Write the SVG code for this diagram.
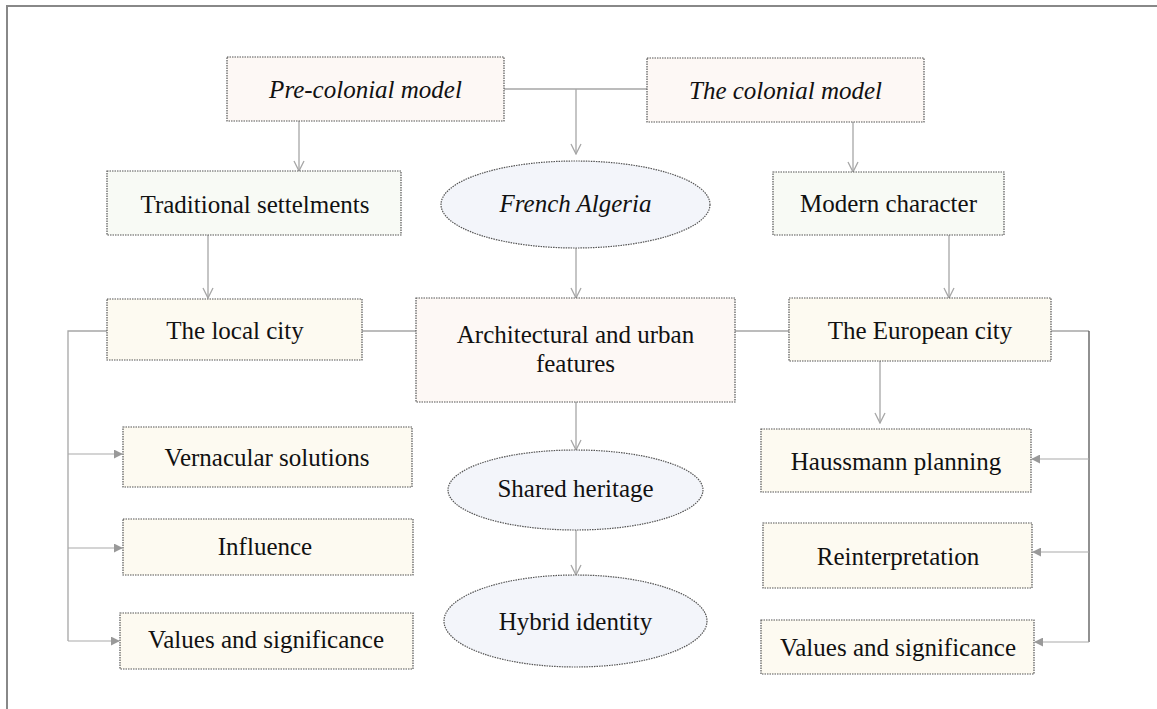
<svg xmlns="http://www.w3.org/2000/svg" width="1157" height="709" viewBox="0 0 1157 709">
  <defs>
    <style>
      .box { stroke: #555; stroke-width: 1.2; stroke-dasharray: 1.5 1; }
      .model { fill: #fdf8f5; }
      .trait { fill: #f8faf5; }
      .city { fill: #fdfaf1; }
      .oval { fill: #f3f5fa; }
      .lbl { font-family: "Liberation Serif", "Times New Roman", serif; font-size: 25px; fill: #111; text-anchor: middle; }
      .it { font-style: italic; }
      .link { fill: none; stroke: #a6a6a6; stroke-width: 1.3; }
      .feed { fill: none; stroke: #aaa; stroke-width: 1.2; }
      .spine { fill: none; stroke: #555; stroke-width: 1.3; }
      .frame { fill: none; stroke: #888; stroke-width: 2; }
    </style>
    <marker id="vee" viewBox="0 0 12 12" refX="11" refY="6" markerWidth="12" markerHeight="12" markerUnits="userSpaceOnUse" orient="auto">
      <path d="M1,1 L11,6 L1,11" fill="none" stroke="#a6a6a6" stroke-width="1.3"/>
    </marker>
    <marker id="tri" viewBox="0 0 10 10" refX="9" refY="5" markerWidth="9" markerHeight="9" markerUnits="userSpaceOnUse" orient="auto">
      <path d="M0,0 L10,5 L0,10 Z" fill="#999"/>
    </marker>
  </defs>

  <!-- page frame -->
  <path class="frame" d="M7,709 L7,6 L1157,6"/>

  <!-- connectors -->
  <g id="connectors">
    <path class="link" d="M504,89 L647,89"/>
    <path class="link" d="M576,89 L576,154" marker-end="url(#vee)"/>
    <path class="link" d="M299,121 L299,171" marker-end="url(#vee)"/>
    <path class="link" d="M853,122 L853,172" marker-end="url(#vee)"/>
    <path class="link" d="M208,235 L208,298" marker-end="url(#vee)"/>
    <path class="link" d="M949,235 L949,298" marker-end="url(#vee)"/>
    <path class="link" d="M576,248 L576,298" marker-end="url(#vee)"/>
    <path class="link" d="M362,331 L416,331"/>
    <path class="link" d="M735,331 L789,331"/>
    <path class="link" d="M880,361 L880,423" marker-end="url(#vee)"/>
    <path class="link" d="M576,402 L576,450" marker-end="url(#vee)"/>
    <path class="link" d="M576,530 L576,575" marker-end="url(#vee)"/>
    <!-- left bracket -->
    <path class="link" d="M107,331 L68,331 L68,641"/>
    <path class="feed" d="M68,454 L122,454" marker-end="url(#tri)"/>
    <path class="feed" d="M68,548 L122,548" marker-end="url(#tri)"/>
    <path class="feed" d="M68,641 L119,641" marker-end="url(#tri)"/>
    <!-- right bracket -->
    <path class="link" d="M1051,331 L1089,331"/>
    <path class="spine" d="M1089,331 L1089,642"/>
    <path class="feed" d="M1089,459 L1032,459" marker-end="url(#tri)"/>
    <path class="feed" d="M1089,552 L1033,552" marker-end="url(#tri)"/>
    <path class="feed" d="M1089,642 L1035,642" marker-end="url(#tri)"/>
  </g>

  <g id="pre-colonial">
    <rect class="box model" x="227" y="57" width="277" height="64"/>
    <text class="lbl it" x="365.5" y="98">Pre-colonial model</text>
  </g>
  <g id="colonial">
    <rect class="box model" x="647" y="58" width="277" height="64"/>
    <text class="lbl it" x="785.5" y="99">The colonial model</text>
  </g>
  <g id="traditional">
    <rect class="box trait" x="107" y="171" width="294" height="64"/>
    <text class="lbl" x="255" y="213">Traditional settelments</text>
  </g>
  <g id="french-algeria">
    <ellipse class="box oval" cx="575.5" cy="204.5" rx="134.5" ry="43.5"/>
    <text class="lbl it" x="575.5" y="212">French Algeria</text>
  </g>
  <g id="modern">
    <rect class="box trait" x="773" y="172" width="231" height="63"/>
    <text class="lbl" x="888.5" y="212">Modern character</text>
  </g>
  <g id="local-city">
    <rect class="box city" x="107" y="299" width="255" height="61"/>
    <text class="lbl" x="235" y="339">The local city</text>
  </g>
  <g id="features">
    <rect class="box model" x="416" y="298" width="319" height="104"/>
    <text class="lbl" x="575.5" y="343">Architectural and urban</text>
    <text class="lbl" x="575.5" y="372">features</text>
  </g>
  <g id="european-city">
    <rect class="box city" x="789" y="298" width="262" height="63"/>
    <text class="lbl" x="920" y="339">The European city</text>
  </g>
  <g id="vernacular">
    <rect class="box city" x="123" y="427" width="289" height="60"/>
    <text class="lbl" x="267" y="466">Vernacular solutions</text>
  </g>
  <g id="influence">
    <rect class="box city" x="123" y="519" width="290" height="56"/>
    <text class="lbl" x="265" y="555">Influence</text>
  </g>
  <g id="values-local">
    <rect class="box city" x="120" y="613" width="293" height="56"/>
    <text class="lbl" x="266" y="648">Values and significance</text>
  </g>
  <g id="shared-heritage">
    <ellipse class="box oval" cx="575.5" cy="490" rx="127.5" ry="40"/>
    <text class="lbl" x="575.5" y="497">Shared heritage</text>
  </g>
  <g id="hybrid-identity">
    <ellipse class="box oval" cx="575.5" cy="621" rx="131.5" ry="46"/>
    <text class="lbl" x="575.5" y="630">Hybrid identity</text>
  </g>
  <g id="haussmann">
    <rect class="box city" x="761" y="429" width="270" height="63"/>
    <text class="lbl" x="896" y="470">Haussmann planning</text>
  </g>
  <g id="reinterpretation">
    <rect class="box city" x="763" y="523" width="269" height="65"/>
    <text class="lbl" x="898" y="565">Reinterpretation</text>
  </g>
  <g id="values-european">
    <rect class="box city" x="761" y="620" width="273" height="54"/>
    <text class="lbl" x="898" y="656">Values and significance</text>
  </g>
</svg>
